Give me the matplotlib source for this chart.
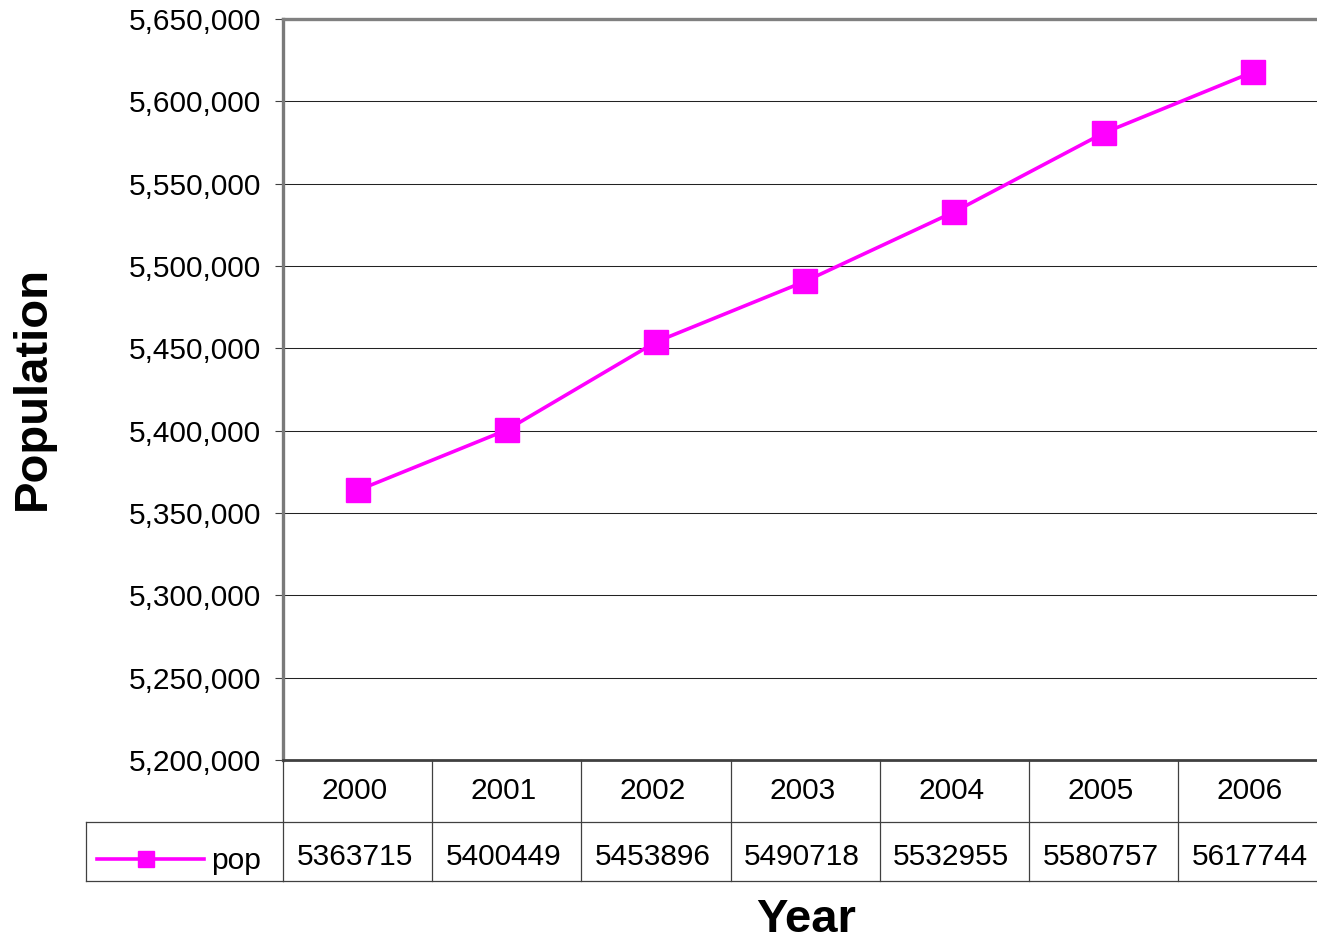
import matplotlib
matplotlib.use("Agg")
import matplotlib.pyplot as plt
from matplotlib.lines import Line2D
from matplotlib.transforms import blended_transform_factory
from matplotlib.ticker import FuncFormatter

years = ["2000", "2001", "2002", "2003", "2004", "2005", "2006"]
pop = [5363715, 5400449, 5453896, 5490718, 5532955, 5580757, 5617744]
series_name = "pop"
y_ticks = [5200000, 5250000, 5300000, 5350000, 5400000, 5450000, 5500000, 5550000, 5600000, 5650000]

W, H = 1317, 944
DPI = 100
plt.rcParams['font.family'] = ['Liberation Sans', 'DejaVu Sans']

fig = plt.figure(figsize=(W / DPI, H / DPI), dpi=DPI)
fig.patch.set_facecolor("white")

def fy(py):
    return 1 - py / H

def fx(px):
    return px / W

FS = 21.5
left_px, right_px, top_px, bot_px = 283, 283 + 7 * 149.2, 19, 760
ax = fig.add_axes([fx(left_px), fy(bot_px), fx(right_px - left_px), (bot_px - top_px) / H])

xs = list(range(len(years)))
ax.plot(xs, pop, color="#FF00FF", lw=2.6, marker="s", ms=17, mec="#FF00FF", mfc="#FF00FF", zorder=5, clip_on=False)

ax.set_xlim(-0.5, len(years) - 0.5)
ax.set_ylim(y_ticks[0], y_ticks[-1])
ax.set_yticks(y_ticks)
ax.yaxis.set_major_formatter(FuncFormatter(lambda v, p: f"{int(v):,}"))
ax.set_xticks([])
ax.tick_params(axis="y", labelsize=FS, length=6, width=0.8, color="#404040", pad=10)
ax.grid(axis="y", color="#222222", lw=0.75)
ax.set_axisbelow(True)

ax.spines["right"].set_visible(False)
ax.spines["top"].set_color("#808080")
ax.spines["top"].set_linewidth(2.4)
ax.spines["left"].set_color("#7a7a7a")
ax.spines["left"].set_linewidth(2.4)
ax.spines["bottom"].set_color("#404040")
ax.spines["bottom"].set_linewidth(2.0)

# Data table
tr = blended_transform_factory(ax.transData, fig.transFigure)
row1_top, row1_bot, row2_bot = 760, 822, 881
line_kw = dict(color="#404040", lw=0.9)
xmax = len(years) - 0.5
fig.add_artist(Line2D([-0.5, xmax], [fy(row1_bot)] * 2, transform=tr, **line_kw))
fig.add_artist(Line2D([fx(86), fx(left_px)], [fy(row1_bot)] * 2, transform=fig.transFigure, **line_kw))
fig.add_artist(Line2D([-0.5, xmax], [fy(row2_bot)] * 2, transform=tr, **line_kw))
fig.add_artist(Line2D([fx(86), fx(left_px)], [fy(row2_bot)] * 2, transform=fig.transFigure, **line_kw))
fig.add_artist(Line2D([fx(86), fx(86)], [fy(row1_bot), fy(row2_bot)], transform=fig.transFigure, **line_kw))
for i in range(len(years) + 1):
    fig.add_artist(Line2D([i - 0.5, i - 0.5], [fy(row1_top), fy(row2_bot)], transform=tr, **line_kw))

for i, (yr, v) in enumerate(zip(years, pop)):
    fig.text(i - 0.02, fy(791), yr, transform=tr, ha="center", va="center", fontsize=FS)
    fig.text(i - 0.02, fy(857), str(v), transform=tr, ha="center", va="center", fontsize=FS)

# legend key in table
fig.add_artist(Line2D([fx(97), fx(204)], [fy(859)] * 2, transform=fig.transFigure,
                      color="#FF00FF", lw=2.6))
fig.add_artist(Line2D([fx(146)], [fy(859)], transform=fig.transFigure, color="#FF00FF",
                      marker="s", ms=11.5, mfc="#FF00FF", mec="#FF00FF"))
fig.text(fx(211), fy(861), series_name, ha="left", va="center", fontsize=FS)

fig.text(fx(33), fy(388), "Population", rotation=90, ha="center", va="center",
         fontsize=34, fontweight="bold")
fig.text(fx(806), fy(920), "Year", ha="center", va="center", fontsize=34, fontweight="bold")

fig.savefig("out.png", dpi=DPI, facecolor="white")
